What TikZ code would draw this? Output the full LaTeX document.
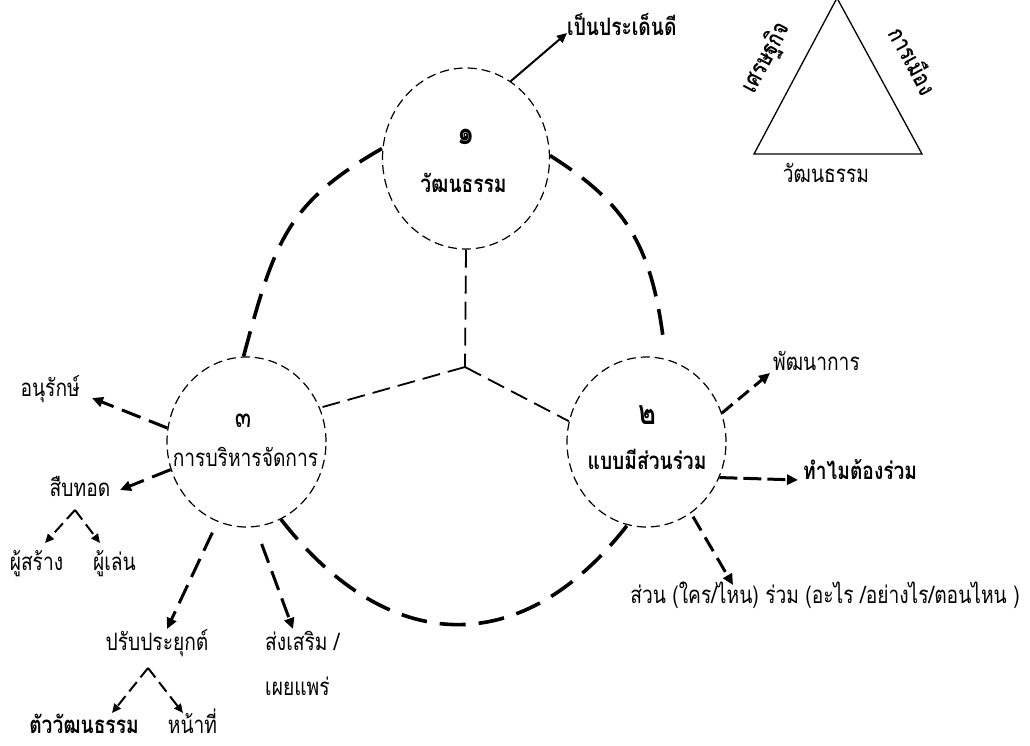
\documentclass[tikz,border=0pt]{standalone}
\usepackage{fontspec}
\newfontfamily\thai[Script=Thai,FakeStretch=0.8]{Loma}
\usetikzlibrary{arrows.meta,shapes.geometric}
\tikzset{
  lbl/.style={font=\thai\fontsize{24}{28}\selectfont, inner sep=0pt, text height=0.75em, text depth=0.25em},
  lblb/.style={font=\thai\bfseries\fontsize{24}{28}\selectfont, inner sep=0pt, text height=0.75em, text depth=0.25em},
  digit/.style={font=\thai\fontsize{34}{38}\selectfont, inner sep=0pt, text height=0.75em, text depth=0.25em},
  circ/.style={ellipse, draw, line width=1.2pt, dash pattern=on 9pt off 5pt, inner sep=0pt},
  bigarc/.style={line width=3.6pt, dash pattern=on 26pt off 13pt},
  link/.style={line width=1.8pt, dash pattern=on 18pt off 8pt},
  darr/.style={line width=3pt, dash pattern=on 20pt off 9pt, -{Triangle[length=11pt,width=10pt]}},
  sarr/.style={line width=2pt, dash pattern=on 12pt off 6pt, -{Triangle[length=9pt,width=8pt]}},
  solarr/.style={line width=2pt, -{Triangle[length=10pt,width=9pt]}}
}
\begin{document}
\begin{tikzpicture}[x=1pt,y=-1pt]
\useasboundingbox (0,0) rectangle (1030,745);

% circles
\node[circ, minimum width=167pt, minimum height=181pt] (c1) at (466,158.5) {};
\node[circ, minimum width=159pt, minimum height=170pt] (c3) at (246.5,442) {};
\node[circ, minimum width=159pt, minimum height=170pt] (c2) at (646.5,442) {};

% circle texts
\node[digit, font=\thai\bfseries\fontsize{34}{38}\selectfont] (n1) at (466,142) {๑};
\node[lblb] (t1) at (463.5,190) {วัฒนธรรม};
\node[digit, font=\thai\fontsize{30}{34}\selectfont] (n3) at (243,425) {๓};
\node[lbl] (t3) at (245.5,464) {การบริหารจัดการ};
\node[digit, font=\thai\bfseries\fontsize{34}{38}\selectfont] (n2) at (647,422) {๒};
\node[lblb] (t2) at (647,467) {แบบมีส่วนร่วม};

% junction links
\coordinate (j) at (465,367);
\draw[link] (c1.south) -- (j);
\draw[link] (j) -- (c3.25);
\draw[link] (j) -- (c2.165);

% big arcs
\draw[bigarc] (c3.92) .. controls +(31,-115) and +(-96,55) .. (c1.173);
\draw[bigarc, shorten >=14pt] (c1.2) .. controls +(76,48) and +(-13.6,-113.5) .. (c2.77);
\draw[bigarc] (c3.294) .. controls +(106,136) and +(-106.5,137) .. (c2.257);

% top label
\node[lblb, anchor=west] (p1) at (567,33) {เป็นประเด็นดี};
\draw[solarr] (c1.60) -- (p1.west);

% circle 2 labels
\node[lbl, anchor=west] (q1) at (773,368) {พัฒนาการ};
\node[lblb, anchor=west] (q2) at (803,477) {ทำไมต้องร่วม};
\node[lbl] (q3) at (825,601) {ส่วน (ใคร/ไหน) ร่วม (อะไร /อย่างไร/ตอนไหน )};
\draw[darr, dash pattern=on 14pt off 7pt] (c2.21) -- ([shift={(-3,5)}]q1.west);
\draw[darr, dash pattern=on 18pt off 6pt] (c2.334) -- ([shift={(-5,3)}]q2.west);
\draw[darr, dash pattern=on 16pt off 8pt, shorten <=4pt] (c2.302) -- (733,585);

% circle 3 labels
\node[lbl, anchor=east] (a1) at (80,394) {อนุรักษ์};
\node[lbl] (a2) at (80,494) {สืบทอด};
\node[lbl] (b1) at (36.5,568) {ผู้สร้าง};
\node[lbl] (b2) at (114.5,568) {ผู้เล่น};
\node[lbl] (a3) at (157,648) {ปรับประยุกต์};
\node[lbl, anchor=west] (a4) at (265,648) {ส่งเสริม /};
\node[lbl, anchor=west] (a5) at (265,693) {เผยแพร่};
\node[lblb] (d1) at (84,731) {ตัววัฒนธรรม};
\node[lbl] (d2) at (192.5,731) {หน้าที่};

\draw[darr] (c3.170) -- (92,398);
\draw[darr] (c3.200) -- (120,490);
\coordinate (s1) at (75,510);
\draw[sarr] (s1) -- (45,543);
\draw[sarr] (s1) -- (100,543);
\draw[darr, shorten <=12pt] (c3.250) -- (167,629);
\draw[darr, shorten <=18pt] (c3.276) -- (293,629);
\coordinate (s2) at (148,668);
\draw[sarr] (s2) -- (112,713);
\draw[sarr] (s2) -- (183,713);

% triangle
\coordinate (ta) at (837,-2);
\coordinate (tl) at (754,154);
\coordinate (tr) at (922,154);
\draw[line width=1.3pt, line join=miter] (ta) -- (tl) -- (tr) -- cycle;
\node[lblb, rotate=61.7] (e1) at (770,60) {เศรษฐกิจ};
\node[lblb, rotate=-61.7] (e2) at (907,64) {การเมือง};
\node[lbl] (e3) at (826,180) {วัฒนธรรม};
\end{tikzpicture}
\end{document}
